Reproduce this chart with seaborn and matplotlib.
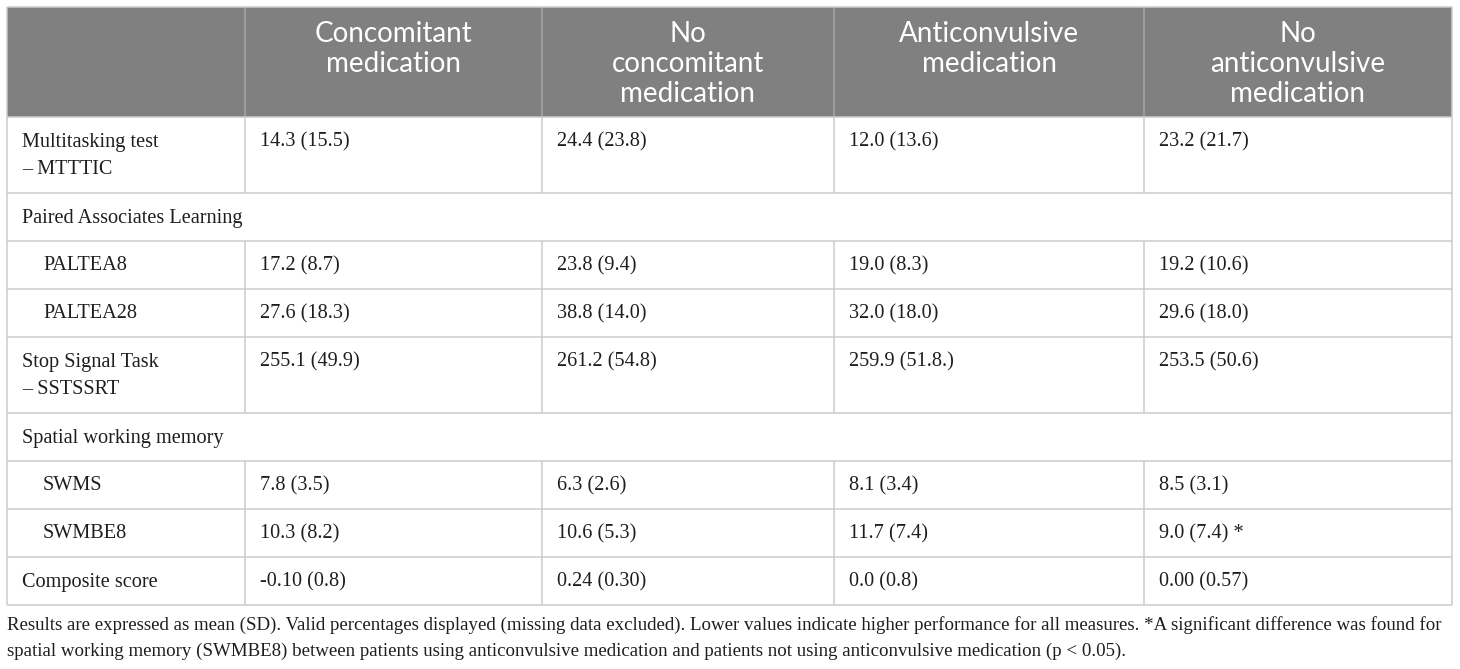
import matplotlib
matplotlib.use("Agg")
import matplotlib.pyplot as plt
import seaborn as sns

# Table content
column_headers = [
    "Concomitant\nmedication",
    "No\nconcomitant\nmedication",
    "Anticonvulsive\nmedication",
    "No\nanticonvulsive\nmedication",
]
measures = [
    "Multitasking test\n– MTTTIC",
    "Paired Associates Learning",
    "PALTEA8",
    "PALTEA28",
    "Stop Signal Task\n– SSTSSRT",
    "Spatial working memory",
    "SWMS",
    "SWMBE8",
    "Composite score",
]
indented = [False, False, True, True, False, False, True, True, False]
concomitant = ["14.3 (15.5)", None, "17.2 (8.7)", "27.6 (18.3)", "255.1 (49.9)",
               None, "7.8 (3.5)", "10.3 (8.2)", "-0.10 (0.8)"]
no_concomitant = ["24.4 (23.8)", None, "23.8 (9.4)", "38.8 (14.0)", "261.2 (54.8)",
                  None, "6.3 (2.6)", "10.6 (5.3)", "0.24 (0.30)"]
anticonvulsive = ["12.0 (13.6)", None, "19.0 (8.3)", "32.0 (18.0)", "259.9 (51.8.)",
                  None, "8.1 (3.4)", "11.7 (7.4)", "0.0 (0.8)"]
no_anticonvulsive = ["23.2 (21.7)", None, "19.2 (10.6)", "29.6 (18.0)", "253.5 (50.6)",
                     None, "8.5 (3.1)", "9.0 (7.4) *", "0.00 (0.57)"]
footnote = [
    "Results are expressed as mean (SD). Valid percentages displayed (missing data excluded). "
    "Lower values indicate higher performance for all measures. *A significant difference was found for",
    "spatial working memory (SWMBE8) between patients using anticonvulsive medication and "
    "patients not using anticonvulsive medication (p < 0.05).",
]

# Layout (pixels)
W, H = 1460, 669
col_edges = [7, 245, 542, 834, 1144, 1452]
header_top, header_h = 7, 110
single_h, line_step = 48, 28
grid_color = "#cbcbcb"
header_color = "#808080"
text_color = "#1e1e1e"
serif = ["Liberation Serif", "DejaVu Serif"]
sans = ["Lato", "DejaVu Sans"]

sns.set_theme(style="white")
fig = plt.figure(figsize=(W / 100, H / 100), dpi=100)
ax = fig.add_axes([0, 0, 1, 1])
ax.set_xlim(0, W)
ax.set_ylim(H, 0)
ax.axis("off")

body_cols = [concomitant, no_concomitant, anticonvulsive, no_anticonvulsive]

# header
ax.fill_between([col_edges[0], col_edges[-1]], header_top, header_top + header_h,
                color=header_color, lw=0)
for j, head in enumerate(column_headers):
    cx = (col_edges[j + 1] + col_edges[j + 2]) / 2
    for k, line in enumerate(head.split("\n")):
        ax.text(cx, header_top + 27 + 30 * k, line, ha="center", va="center",
                color="white", fontsize=20, family=sans)

# body rows
row_tops = []
y = header_top + header_h
for m in measures:
    row_tops.append(y)
    y += single_h + line_step * (len(m.split("\n")) - 1)
table_bottom = y

lw = 1.1
for i, m in enumerate(measures):
    top = row_tops[i]
    bottom = row_tops[i + 1] if i + 1 < len(row_tops) else table_bottom
    x0 = col_edges[0] + 15 + (21 if indented[i] else 0)
    for k, line in enumerate(m.split("\n")):
        ax.text(x0, top + 25 + line_step * k, line, ha="left", va="center",
                color=text_color, fontsize=14.6, family=serif)
    spanning = all(col[i] is None for col in body_cols)
    for j, col in enumerate(body_cols):
        if col[i] is not None:
            ax.text(col_edges[j + 1] + 15, top + 25, col[i], ha="left", va="center",
                    color=text_color, fontsize=14.6, family=serif)
    if not spanning:
        ax.vlines(col_edges[1:-1], top, bottom, color=grid_color, lw=lw)
    ax.hlines(bottom, col_edges[0], col_edges[-1], color=grid_color, lw=lw)

# header separators and outer border
ax.vlines(col_edges[1:-1], header_top, header_top + header_h, color="#a6a6a6", lw=lw)
ax.hlines(header_top + header_h, col_edges[0], col_edges[-1], color=grid_color, lw=lw)
ax.hlines(header_top, col_edges[0], col_edges[-1], color=grid_color, lw=lw)
ax.vlines([col_edges[0], col_edges[-1]], header_top, table_bottom, color=grid_color, lw=lw)

# footnote
for k, line in enumerate(footnote):
    ax.text(col_edges[0], table_bottom + 20 + 26 * k, line, ha="left", va="center",
            color=text_color, fontsize=13.6, family=serif)

fig.savefig("out.png", dpi=100)
